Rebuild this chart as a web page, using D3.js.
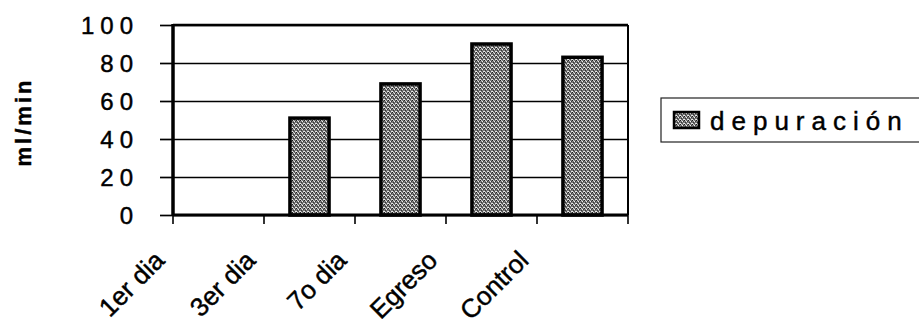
<!DOCTYPE html>
<html>
<head>
<meta charset="utf-8">
<script src="https://cdn.jsdelivr.net/npm/d3@7"></script>
<style>
  body { margin: 0; background: #fff; }
  svg { display: block; }
  text { font-family: "Liberation Sans", Arial, sans-serif; fill: #000; stroke: #000; stroke-width: 0.45px; }
</style>
</head>
<body>
<svg id="chart" width="919" height="330"></svg>
<script>
// Data
const categories = ["1er dia", "3er dia", "7o dia", "Egreso", "Control"];
const depuracion = [null, 51, 69, 90, 83];
const yTicks = [0, 20, 40, 60, 80, 100];
const seriesName = "depuración";
const yTitle = "ml/min";

const svg = d3.select("#chart");

// Plot frame
const plot = { left: 173, right: 628, top: 25, bottom: 215 };
const W = plot.right - plot.left;

const x = d3.scaleBand()
  .domain(categories)
  .range([plot.left, plot.right])
  .paddingInner(0.57)
  .paddingOuter(0.285);

const y = d3.scaleLinear()
  .domain([0, 100])
  .range([plot.bottom, plot.top]);

// Stippled grey fill for the bars
const defs = svg.append("defs");
const pat = defs.append("pattern")
  .attr("id", "stipple")
  .attr("patternUnits", "userSpaceOnUse")
  .attr("width", 4).attr("height", 4);
pat.append("rect").attr("width", 4).attr("height", 4).attr("fill", "#7a7a7a");
[[0, 0, "#1e1e1e"], [2, 1, "#f2f2f2"], [1, 2, "#333"], [3, 3, "#e0e0e0"],
 [3, 1, "#3a3a3a"], [0, 3, "#ececec"], [2, 3, "#4a4a4a"], [1, 0, "#cfcfcf"]]
  .forEach(([px, py, c]) => pat.append("rect")
    .attr("x", px).attr("y", py).attr("width", 1).attr("height", 1).attr("fill", c));

// Horizontal gridlines
svg.append("g")
  .attr("transform", `translate(${plot.left},0)`)
  .call(d3.axisLeft(y).tickValues(yTicks).tickSize(-W).tickFormat(""))
  .call(g => g.select(".domain").remove())
  .call(g => g.selectAll(".tick line").attr("stroke", "#000").attr("stroke-width", 1.7));

// Y axis with outward ticks and spaced labels
svg.append("g")
  .attr("transform", `translate(${plot.left},0)`)
  .call(d3.axisLeft(y).tickValues(yTicks).tickSize(13).tickPadding(21).tickFormat(d3.format("d")))
  .call(g => g.select(".domain").remove())
  .call(g => g.selectAll(".tick line").attr("stroke", "#000").attr("stroke-width", 1.7))
  .call(g => g.selectAll(".tick text")
    .attr("font-size", 24)
    .attr("letter-spacing", 6)
    .attr("dy", "0.36em")
    .style("font-family", "'Liberation Sans', Arial, sans-serif")
    .attr("fill", "#000"));

// Right and top border of the plot area
svg.append("line")
  .attr("x1", plot.right).attr("x2", plot.right)
  .attr("y1", plot.top).attr("y2", plot.bottom)
  .attr("stroke", "#000").attr("stroke-width", 2);
svg.append("line")
  .attr("x1", plot.left).attr("x2", plot.right)
  .attr("y1", plot.top).attr("y2", plot.top)
  .attr("stroke", "#000").attr("stroke-width", 2.6);

// Bars
const rows = categories.map((c, i) => ({ cat: c, v: depuracion[i] })).filter(d => d.v != null);
svg.append("g").selectAll("rect")
  .data(rows)
  .join("rect")
  .attr("x", d => x(d.cat))
  .attr("y", d => y(d.v))
  .attr("width", x.bandwidth())
  .attr("height", d => y(0) - y(d.v))
  .attr("fill", "url(#stipple)")
  .attr("stroke", "#000")
  .attr("stroke-width", 3.5);

// Left axis line and bottom axis line
svg.append("line")
  .attr("x1", plot.left).attr("x2", plot.left)
  .attr("y1", plot.top - 1).attr("y2", plot.bottom + 1)
  .attr("stroke", "#000").attr("stroke-width", 3.5);

const gap = (x.step() - x.bandwidth()) / 2;
const bounds = categories.map(c => x(c) - gap).concat([plot.right]);

const xAxis = svg.append("g").attr("transform", `translate(0,${plot.bottom})`);
xAxis.append("line")
  .attr("x1", plot.left).attr("x2", plot.right)
  .attr("stroke", "#000").attr("stroke-width", 3);
xAxis.selectAll("line.tk")
  .data(bounds)
  .join("line")
  .attr("class", "tk")
  .attr("x1", d => d).attr("x2", d => d)
  .attr("y1", 0).attr("y2", 9)
  .attr("stroke", "#000").attr("stroke-width", 1.6);

// Rotated category labels
xAxis.selectAll("text")
  .data(categories)
  .join("text")
  .attr("transform", c => `translate(${x(c) - gap - 7},${47}) rotate(-45)`)
  .attr("text-anchor", "end")
  .attr("font-size", 26)
  .text(c => c);

// Y axis title
svg.append("text")
  .attr("transform", "translate(31,122) rotate(-90)")
  .attr("text-anchor", "middle")
  .attr("font-size", 22)
  .attr("font-weight", "bold")
  .attr("letter-spacing", 3)
  .text(yTitle);

// Legend
const lg = svg.append("g");
lg.append("rect")
  .attr("x", 661).attr("y", 98)
  .attr("width", 280).attr("height", 44)
  .attr("fill", "none")
  .attr("stroke", "#222").attr("stroke-width", 1.2);
lg.append("rect")
  .attr("x", 674).attr("y", 112)
  .attr("width", 25).attr("height", 16)
  .attr("fill", "url(#stipple)")
  .attr("stroke", "#000").attr("stroke-width", 2.5);
lg.append("text")
  .attr("x", 710).attr("y", 130)
  .attr("font-size", 26)
  .attr("letter-spacing", 7)
  .text(seriesName);
</script>
</body>
</html>
